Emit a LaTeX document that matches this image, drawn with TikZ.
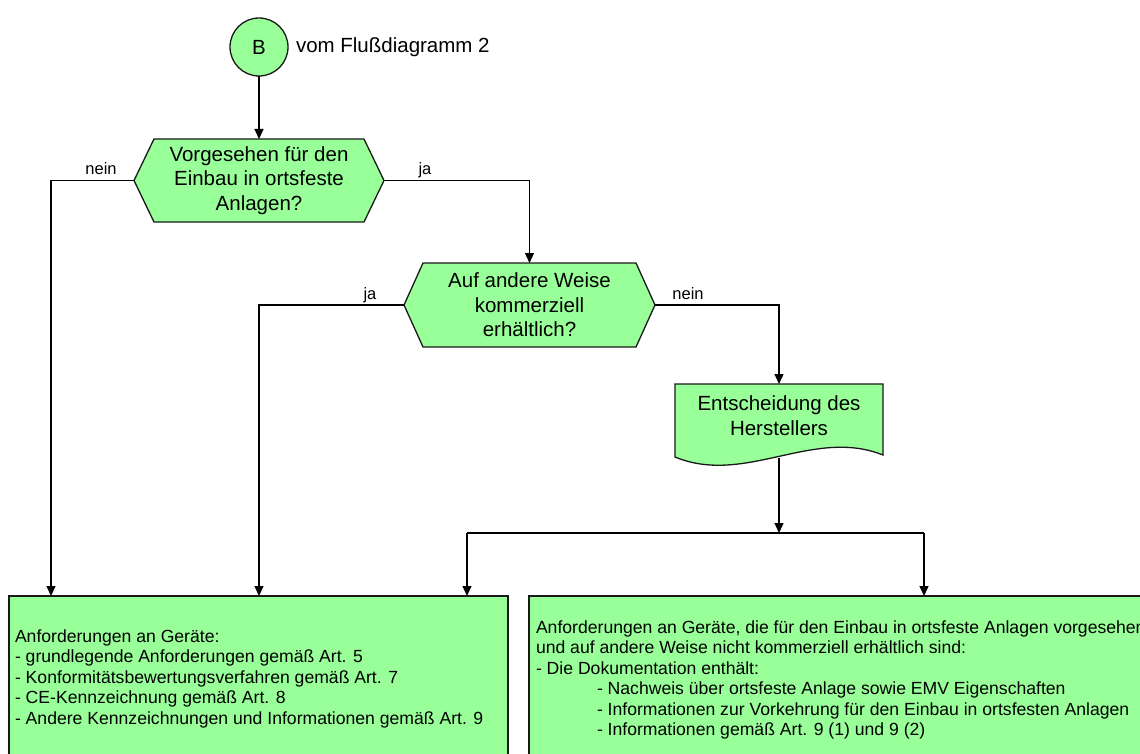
\documentclass[tikz,border=0pt]{standalone}
\usepackage{fontspec}
\setmainfont{Liberation Sans}
\usetikzlibrary{arrows.meta}
\definecolor{fillgreen}{RGB}{153,255,153}
\definecolor{edgegray}{RGB}{25,25,25}
\begin{document}
\begin{tikzpicture}[x=1pt,y=-1pt,
  every node/.style={inner sep=0pt,outer sep=0pt},
  shapeline/.style={draw=edgegray,line width=1.3pt,fill=fillgreen},
  conn/.style={draw=black,line width=1.3pt},
  arr/.style={conn,-{Triangle[length=10pt,width=9pt]}},
  bigtext/.style={font=\fontsize{20.5}{24.5}\selectfont,align=center},
  boxtext/.style={font=\fontsize{17.6}{20.5}\selectfont,align=left},
  labeltext/.style={font=\fontsize{16.5}{18.5}\selectfont},
]
\useasboundingbox (0,0) rectangle (1140,754);
\fill[white] (0,0) rectangle (1140,754);

% start connector
\node[shapeline,circle,minimum size=58pt,bigtext] (B) at (259,47) {B};
\node[bigtext,anchor=west] (Blabel) at (296,47) {vom Flußdiagramm 2};

% decision 1
\node[minimum width=250pt,minimum height=83pt] (q1) at (259,180.5) {};
\draw[shapeline] (q1.west) -- ([xshift=20pt]q1.north west) -- ([xshift=-20pt]q1.north east)
  -- (q1.east) -- ([xshift=-20pt]q1.south east) -- ([xshift=20pt]q1.south west) -- cycle;
\node[bigtext] (q1t) at (q1.center) {Vorgesehen für den\\Einbau in ortsfeste\\Anlagen?};

% decision 2
\node[minimum width=251pt,minimum height=84pt] (q2) at (529.5,305) {};
\draw[shapeline] (q2.west) -- ([xshift=19pt]q2.north west) -- ([xshift=-19pt]q2.north east)
  -- (q2.east) -- ([xshift=-19pt]q2.south east) -- ([xshift=19pt]q2.south west) -- cycle;
\node[bigtext] (q2t) at (q2.center) {Auf andere Weise\\kommerziell\\erhältlich?};

% document
\node[minimum width=208pt,minimum height=74pt] (doc) at (779,421) {};
\draw[shapeline] (675,457) -- (doc.north west) -- (doc.north east) -- (883,455)
  .. controls (813,427) and (745,486) .. (675,457) -- cycle;
\node[bigtext] (doct) at (779,415.5) {Entscheidung des\\Herstellers};

% result boxes
\node[shapeline,anchor=north west,minimum width=499pt,minimum height=190pt] (boxL) at (9,596) {};
\node[shapeline,anchor=north west,minimum width=640pt,minimum height=190pt] (boxR) at (529,596) {};
\node[boxtext,anchor=north west] (boxLt) at (15,629.5) {Anforderungen an Geräte:\\
- grundlegende Anforderungen gemäß Art. 5\\
- Konformitätsbewertungsverfahren gemäß Art. 7\\
- CE-Kennzeichnung gemäß Art. 8\\
- Andere Kennzeichnungen und Informationen gemäß Art. 9};
\node[boxtext,anchor=north west] (boxRt) at (536,620.5) {Anforderungen an Geräte, die für den Einbau in ortsfeste Anlagen vorgesehen\\
und auf andere Weise nicht kommerziell erhältlich sind:\\
- Die Dokumentation enthält:\\
\hspace*{61pt}- Nachweis über ortsfeste Anlage sowie EMV Eigenschaften\\
\hspace*{61pt}- Informationen zur Vorkehrung für den Einbau in ortsfesten Anlagen\\
\hspace*{61pt}- Informationen gemäß Art. 9 (1) und 9 (2)};

% connectors
\coordinate (junc) at (779,533);
\coordinate (jl) at (467,533);
\coordinate (jr) at (924,533);
\draw[arr] (B.south) -- (q1.north);
\draw[arr] (q1.west) -| ([xshift=42pt]boxL.north west);
\draw[arr] (q1.east) -| (q2.north);
\draw[arr] (q2.west) -| (q1.south |- boxL.north);
\draw[arr] (q2.east) -| (doc.north);
\draw[arr] (doc.south) -- (junc);
\draw[conn] (jl) -- (jr);
\draw[arr] (jl) -- (jl |- boxL.north);
\draw[arr] (jr) -- (jr |- boxR.north);

% labels
\node[labeltext,anchor=base] (l1) at (101,175) {nein};
\node[labeltext,anchor=base] (l2) at (425,175) {ja};
\node[labeltext,anchor=base] (l3) at (370,299) {ja};
\node[labeltext,anchor=base] (l4) at (688,299) {nein};
\end{tikzpicture}
\end{document}
